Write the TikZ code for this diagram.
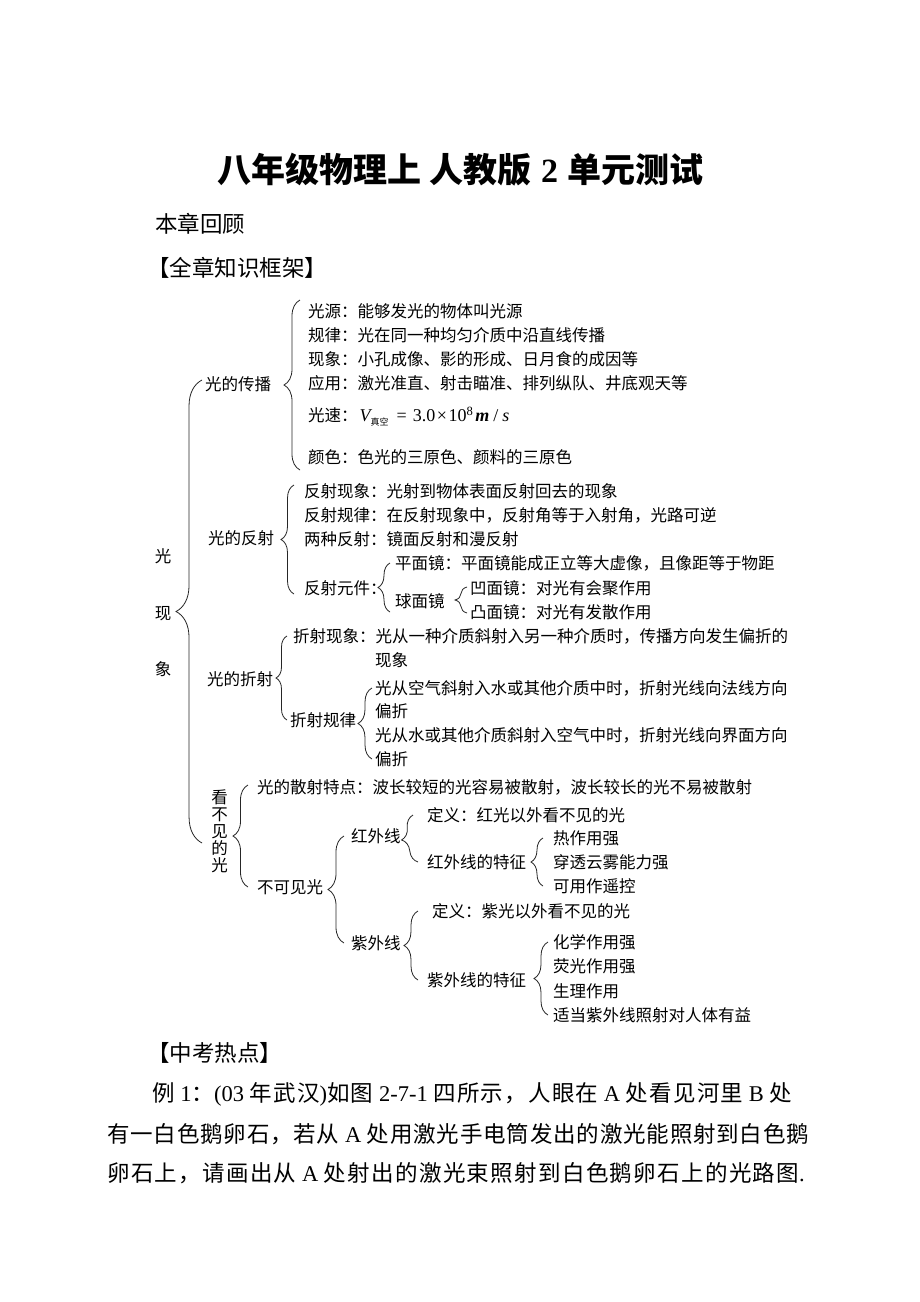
\documentclass[tikz,border=0pt]{standalone}
\usepackage{fontspec}
\setmainfont{Liberation Serif}
\newfontfamily\cjk{Noto Sans CJK SC}
\usetikzlibrary{calc,decorations.pathreplacing}
\newcommand\dgfont{\fontsize{16.5}{16.5}\selectfont\cjk}
\newcommand\bodyfont{\fontsize{22.5}{22.5}\selectfont}
\newcommand\zh[2]{{\cjk\addfontfeature{LetterSpace=#1}#2}}
\tikzset{
  item/.style={anchor=west, inner sep=0pt, font=\dgfont},
  head/.style={anchor=west, inner sep=0pt, font=\bodyfont\cjk},
  para/.style={anchor=west, inner sep=0pt, font=\bodyfont},
  brc/.style={decorate, decoration={brace, amplitude=#1}, line width=0.8pt, black!85}
}
\begin{document}
\begin{tikzpicture}[x=1pt, y=-1pt]
\fill[white] (0,0) rectangle (920,1302);
\useasboundingbox (0,0) rectangle (920,1302);

\node[inner sep=0pt, font=\fontsize{34}{34}\selectfont\bfseries] (title) at (460,170)
{{\cjk 八年级物理上}\hspace{9pt}{\cjk 人教版}\hspace{9pt}2\hspace{9pt}{\cjk 单元测试}};
\node[head] (review) at (155,224) {本章回顾};
\node[head] (frame) at (147,268) {【全章知识框架】};

\node[inner sep=0pt, align=center, font=\fontsize{16.5}{56.5}\selectfont\cjk] (root) at (163,613)
{光\\现\\象};

\node[item] (s1) at (205,384) {光的传播};
\node[item] (s2) at (208,538) {光的反射};
\node[item] (s3) at (207,679) {光的折射};
\node[inner sep=0pt, align=center, font=\fontsize{16.5}{17}\selectfont\cjk] (s4) at (219.5,831)
{看\\不\\见\\的\\光};

\node[item] (a1) at (308,311) {光源：能够发光的物体叫光源};
\node[item] (a2) at (308,335) {规律：光在同一种均匀介质中沿直线传播};
\node[item] (a3) at (308,359) {现象：小孔成像、影的形成、日月食的成因等};
\node[item] (a4) at (308,383) {应用：激光准直、射击瞄准、排列纵队、井底观天等};
\node[item] (a5) at (308,417) {光速：\hspace{2pt}{\rmfamily\fontsize{18}{18}\selectfont\itshape V}%
\raisebox{-4pt}{\fontsize{9}{9}\selectfont 真空}\hspace{8pt}%
{\rmfamily\fontsize{18}{18}\selectfont =\hspace{6pt}3.0\hspace{1.5pt}×\hspace{1.5pt}10\textsuperscript{8}\hspace{2pt}\textbf{\textit{m}}\hspace{4pt}/\hspace{4pt}\textit{s}}};
\node[item] (a6) at (308,457) {颜色：色光的三原色、颜料的三原色};

\node[item] (b1) at (304,491) {反射现象：光射到物体表面反射回去的现象};
\node[item] (b2) at (304,515) {反射规律：在反射现象中，反射角等于入射角，光路可逆};
\node[item] (b3) at (304,539) {两种反射：镜面反射和漫反射};
\node[item] (b4) at (304,588) {反射元件：};
\node[item] (b5) at (395,563) {平面镜：平面镜能成正立等大虚像，且像距等于物距};
\node[item] (b6) at (395,601) {球面镜};
\node[item] (b7) at (470,588) {凹面镜：对光有会聚作用};
\node[item] (b8) at (470,612) {凸面镜：对光有发散作用};

\node[item] (c1) at (293,636) {折射现象：光从一种介质斜射入另一种介质时，传播方向发生偏折的};
\node[item] (c2) at (375,660) {现象};
\node[item] (c3) at (290,720) {折射规律};
\node[item] (c4) at (375,688) {光从空气斜射入水或其他介质中时，折射光线向法线方向};
\node[item] (c5) at (375,711) {偏折};
\node[item] (c6) at (375,735) {光从水或其他介质斜射入空气中时，折射光线向界面方向};
\node[item] (c7) at (375,759) {偏折};

\node[item] (d1) at (257,787) {光的散射特点：波长较短的光容易被散射，波长较长的光不易被散射};
\node[item] (d2) at (257,887) {不可见光};
\node[item] (d3) at (351,836) {红外线};
\node[item] (d4) at (351,943) {紫外线};
\node[item] (d5) at (427,815) {定义：红光以外看不见的光};
\node[item] (d6) at (427,862) {红外线的特征};
\node[item] (d7) at (553,838) {热作用强};
\node[item] (d8) at (553,862) {穿透云雾能力强};
\node[item] (d9) at (553,886) {可用作遥控};
\node[item] (d10) at (432,911) {定义：紫光以外看不见的光};
\node[item] (d11) at (427,980) {紫外线的特征};
\node[item] (d12) at (553,942) {化学作用强};
\node[item] (d13) at (553,966) {荧光作用强};
\node[item] (d14) at (553,991) {生理作用};
\node[item] (d15) at (553,1015) {适当紫外线照射对人体有益};

\draw[brc=26] ($(s4.west)+(-9,12)$) -- ($(s1.west)+(-3,-4)$);
\draw[brc=16] ($(a6.west)+(-8,13)$) -- ($(a1.west)+(-8,-11)$);
\draw[brc=13] ($(b4.west)+(-10,6)$) -- ($(b1.west)+(-10,-6)$);
\draw[brc=12] ($(b6.west)+(-5,11)$) -- ($(b5.west)+(-5,0)$);
\draw[brc=12] ($(b8.west)+(-3,1)$) -- ($(b7.west)+(-3,-1)$);
\draw[brc=11] ($(c3.west)+(-3,0)$) -- ($(c1.west)+(-6,0)$);
\draw[brc=14] ($(c7.west)+(-3,0)$) -- ($(c4.west)+(-3,0)$);
\draw[brc=15] ($(d2.west)+(-9,0)$) -- ($(d1.west)+(-9,-2)$);
\draw[brc=16] ($(d4.west)+(-7,0)$) -- ($(d3.west)+(-7,0)$);
\draw[brc=14] ($(d6.west)+(-9,0)$) -- ($(d5.west)+(-14,0)$);
\draw[brc=12] ($(d9.west)+(-10,0)$) -- ($(d7.west)+(-10,0)$);
\draw[brc=14] ($(d11.west)+(-9,0)$) -- ($(d10.west)+(-14,0)$);
\draw[brc=14] ($(d15.west)+(-5,0)$) -- ($(d12.west)+(-5,0)$);

\node[head] (hot) at (147,1053) {【中考热点】};
\node[para] (p1) at (152,1094) {\zh{5.5}{例} 1\zh{5.5}{：}(03 \zh{5.5}{年武汉})\zh{5.5}{如图} 2-7-1 \zh{5.5}{四所示，人眼在} A \zh{5.5}{处看见河里} B \zh{5.5}{处}};
\node[para] (p2) at (107,1134) {\zh{3.6}{有一白色鹅卵石，若从} A \zh{3.6}{处用激光手电筒发出的激光能照射到白色鹅}};
\node[para] (p3) at (107,1173) {\zh{5.9}{卵石上，请画出从} A \zh{5.9}{处射出的激光束照射到白色鹅卵石上的光路图}.};
\end{tikzpicture}
\end{document}
